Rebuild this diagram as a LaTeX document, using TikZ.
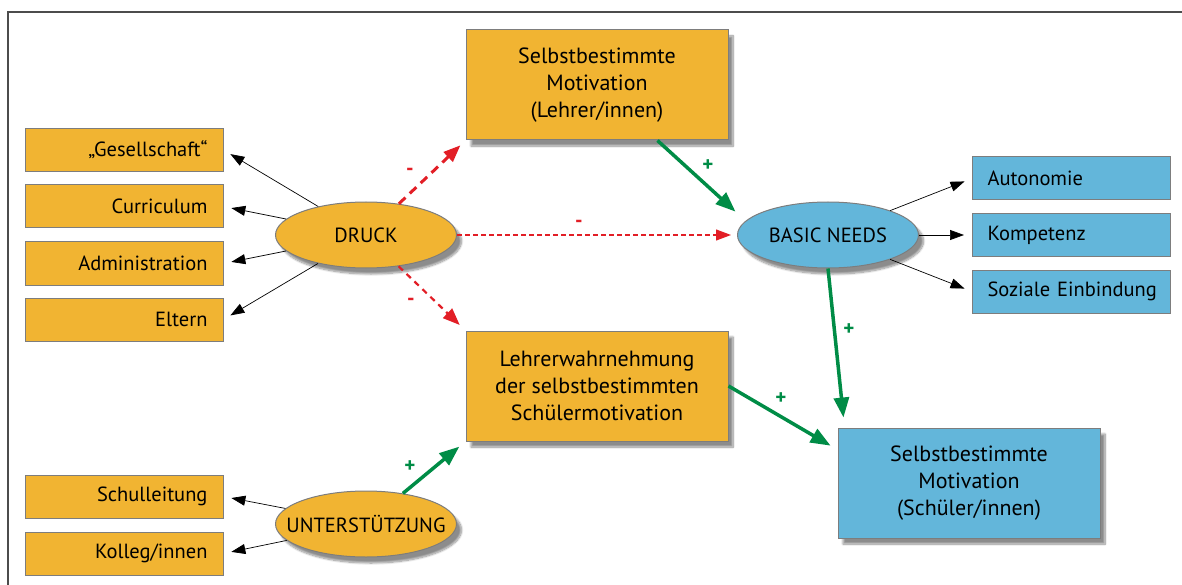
\documentclass[tikz,border=0pt]{standalone}
\usepackage{fontspec}
\setmainfont{PT Sans}
\usetikzlibrary{arrows.meta,calc,shapes.geometric,shadows.blur}

\definecolor{orangefill}{RGB}{241,180,50}
\definecolor{bluefill}{RGB}{99,182,218}
\definecolor{posgreen}{RGB}{0,140,70}
\definecolor{negred}{RGB}{226,30,38}
\definecolor{rimgray}{RGB}{125,125,125}

\tikzset{
  smallbox/.style={draw=rimgray, line width=1pt, minimum width=198pt, minimum height=43pt,
    inner sep=0pt},
  leftbox/.style={smallbox, fill=orangefill, text width=167pt, align=right},
  rightbox/.style={smallbox, fill=bluefill, text width=168pt, align=left},
  bigbox/.style={draw=rimgray, line width=1pt, minimum width=262pt, minimum height=110pt,
    align=center, font=\fontsize{22}{27}\selectfont,
    blur shadow={shadow xshift=5pt, shadow yshift=-6pt, shadow blur steps=10, shadow opacity=45}},
  oval/.style={ellipse, draw=rimgray, line width=1pt, minimum width=181pt, minimum height=66pt,
    inner sep=0pt, blur shadow={shadow xshift=5pt, shadow yshift=-6pt, shadow blur steps=10, shadow opacity=45}},
  thinarrow/.style={-{Triangle[length=14pt,width=10pt]}, line width=0.7pt, shorten >=8pt},
  greenarrow/.style={-{Triangle[length=20pt,width=15pt]}, posgreen, line width=3.5pt},
  redarrow/.style={-{Triangle[length=17pt,width=13pt]}, negred, line width=3pt,
    dash pattern=on 9pt off 6pt},
  minus/.style={negred, font=\fontsize{21}{24}\selectfont\bfseries},
  plus/.style={posgreen, font=\fontsize{21}{24}\selectfont\bfseries},
}

\begin{document}
\begin{tikzpicture}[x=1pt, y=-1pt, font=\fontsize{20.5}{27}\selectfont]
  \useasboundingbox (0,0) rectangle (1182,585);
  % frame
  \draw[line width=2pt, black!70] (1182,12.5) -- (7.5,12.5) -- (7.5,585);

  % pressure side
  \node[leftbox] (ges) at (124,150) {„Gesellschaft“};
  \node[leftbox] (curr) at (124,206.5) {Curriculum};
  \node[leftbox] (admin) at (124,263.5) {Administration};
  \node[leftbox] (eltern) at (124,319.5) {Eltern};
  \node[leftbox] (schul) at (124,496.5) {Schulleitung};
  \node[leftbox] (koll) at (124,553.5) {Kolleg/innen};

  \node[oval, fill=orangefill] (druck) at (366,235) {\makebox[0pt]{DRUCK}};
  \node[oval, fill=orangefill] (unter) at (366,524) {\makebox[0pt]{UNTERSTÜTZUNG}};

  % teachers
  \node[bigbox, fill=orangefill] (lmot) at (597,85) {Selbstbestimmte\\Motivation\\(Lehrer/innen)};
  \node[bigbox, fill=orangefill] (lwahr) at (597,386)
    {Lehrerwahrnehmung\\der selbstbestimmten\\Schülermotivation};

  % students
  \node[oval, fill=bluefill] (basic) at (828,235) {\makebox[0pt]{BASIC NEEDS}};
  \node[rightbox] (auto) at (1071.5,178.5) {Autonomie};
  \node[rightbox] (komp) at (1071.5,235) {Kompetenz};
  \node[rightbox] (sozial) at (1071.5,291.5) {\mbox{Soziale Einbindung}};
  \node[bigbox, fill=bluefill] (smot) at (969,483)
    {Selbstbestimmte\\Motivation\\(Schüler/innen)};

  % black arrows
  \foreach \b in {ges,curr,admin,eltern}
    \draw[thinarrow] (druck) -- (\b.east);
  \foreach \b in {schul,koll}
    \draw[thinarrow] (unter) -- (\b.east);
  \foreach \b in {auto,komp,sozial}
    \draw[thinarrow] (basic) -- (\b.west);

  % negative paths
  \draw[redarrow, shorten >=7pt] (druck) -- (lmot.south west);
  \draw[redarrow, line width=2.2pt, dash pattern=on 6pt off 5pt, shorten >=8pt] (druck) -- (lwahr.north west);
  \draw[-{Triangle[length=15pt,width=11pt]}, negred, line width=1.2pt, dash pattern=on 5pt off 3pt,
    shorten >=6pt] (druck) -- (basic);
  \node[minus] at (410,172) {-};
  \node[minus] at (411,302) {-};
  \node[minus] at (579,224) {-};

  % positive paths
  \draw[greenarrow, shorten >=2pt] ($(lmot.south east)!0.27!(lmot.south west)$) -- ($(basic.west)+(0,-22)$);
  \draw[greenarrow, shorten >=10pt] (basic.south) -- ($(smot.north west)+(7,0)$);
  \draw[greenarrow, shorten >=8pt] (lwahr.east) -- ($(smot.north west)!0.2!(smot.south west)$);
  \draw[greenarrow, shorten >=8pt] (unter) -- (lwahr.south west);
  \node[plus] at (708,166) {+};
  \node[plus] at (849,330) {+};
  \node[plus] at (781,399) {+};
  \node[plus] at (410,467) {+};
\end{tikzpicture}
\end{document}
